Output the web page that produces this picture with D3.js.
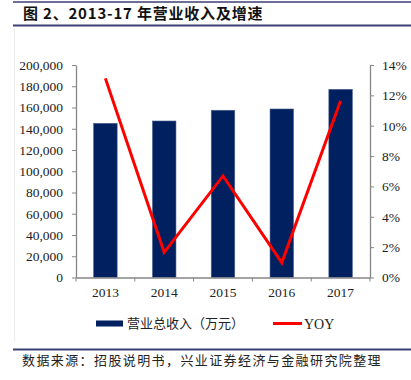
<!DOCTYPE html>
<html lang="zh">
  <head>
    <meta charset="UTF-8" />
    <title>营业收入及增速</title>
    <style>
      body { margin: 0; background: #fff; }
      svg { display: block; }
    </style>
  </head>
  <body>
    <div id="chart"></div>
    <script src="https://d3js.org/d3.v7.min.js"></script>
    <script>
      // data
      var years = ["2013", "2014", "2015", "2016", "2017"];
      var revenue = [145100, 147300, 157400, 158600, 177100]; // 万元
      var yoy = [0.1312, 0.0166, 0.0669, 0.0098, 0.1165];
      var leftTicks = [0, 20000, 40000, 60000, 80000, 100000, 120000, 140000, 160000, 180000, 200000];
      var rightTicks = [0, 0.02, 0.04, 0.06, 0.08, 0.1, 0.12, 0.14];

      var W = 411, H = 380;
      var plot = { left: 76, right: 370, top: 65, bottom: 277.5 };
      var serif = "'Liberation Serif', 'Times New Roman', serif";
      var cjk = "'Noto Sans CJK SC', sans-serif";
      var axisColor = "#868686";
      var ruleColor = "#3d3f73";

      var svg = d3
        .select("#chart")
        .append("svg")
        .attr("width", W)
        .attr("height", H);

      // header / footer rules
      svg.append("line").attr("x1", 13).attr("x2", W).attr("y1", 2).attr("y2", 2)
        .attr("stroke", ruleColor).attr("stroke-width", 1.5);
      svg.append("line").attr("x1", 13).attr("x2", W).attr("y1", 25.5).attr("y2", 25.5)
        .attr("stroke", ruleColor).attr("stroke-width", 2);
      svg.append("line").attr("x1", 13).attr("x2", W).attr("y1", 349.5).attr("y2", 349.5)
        .attr("stroke", ruleColor).attr("stroke-width", 2);
      // faint chart frame edge
      svg.append("line").attr("x1", 14.5).attr("x2", 14.5).attr("y1", 28).attr("y2", 342)
        .attr("stroke", "#eeeeee").attr("stroke-width", 1);

      svg.append("text")
        .attr("x", 23).attr("y", 19)
        .style("font-family", cjk).style("font-size", "15px").style("font-weight", "bold")
        .style("letter-spacing", "0.8px").style("fill", "#111")
        .text("图 2、2013-17 年营业收入及增速");

      svg.append("text")
        .attr("x", 22).attr("y", 365)
        .style("font-family", cjk).style("font-size", "13px")
        .style("letter-spacing", "1.4px").style("fill", "#222")
        .text("数据来源：招股说明书，兴业证券经济与金融研究院整理");

      // scales
      var xb = d3.scaleBand().domain(years).range([plot.left, plot.right]);
      var yL = d3.scaleLinear().domain([0, 200000]).range([plot.bottom, plot.top]);
      var yR = d3.scaleLinear().domain([0, 0.14]).range([plot.bottom, plot.top]);
      var barW = xb.bandwidth() * 0.4;

      // bars
      svg.append("g")
        .selectAll("rect")
        .data(years)
        .enter()
        .append("rect")
        .attr("x", function (d) { return xb(d) + (xb.bandwidth() - barW) / 2; })
        .attr("width", barW)
        .attr("y", function (d, i) { return yL(revenue[i]); })
        .attr("height", function (d, i) { return plot.bottom - yL(revenue[i]); })
        .attr("fill", "#002060")
        .attr("stroke", "#51638f")
        .attr("stroke-width", 0.6);

      // axes
      var fmt = d3.format(",");
      var gL = svg.append("g")
        .attr("transform", "translate(" + plot.left + ",0)")
        .call(d3.axisLeft(yL).tickValues(leftTicks).tickFormat(fmt).tickSizeInner(4).tickSizeOuter(0).tickPadding(9));
      var gR = svg.append("g")
        .attr("transform", "translate(" + plot.right + ",0)")
        .call(d3.axisRight(yR).tickValues(rightTicks).tickFormat(d3.format(".0%")).tickSizeInner(4).tickSizeOuter(0).tickPadding(8));
      var gX = svg.append("g")
        .attr("transform", "translate(0," + plot.bottom + ")")
        .call(d3.axisBottom(xb).tickSize(0).tickPadding(10));
      // x ticks on band boundaries
      gX.selectAll(".bound")
        .data(years.concat(["end"]))
        .enter()
        .append("line")
        .attr("class", "bound")
        .attr("x1", function (d, i) { return plot.left + i * xb.bandwidth(); })
        .attr("x2", function (d, i) { return plot.left + i * xb.bandwidth(); })
        .attr("y1", 0).attr("y2", 4)
        .attr("stroke", axisColor);

      [gL, gR, gX].forEach(function (g) {
        g.select(".domain").attr("stroke", axisColor).attr("stroke-width", 1.3);
        g.selectAll(".tick line").attr("stroke", axisColor);
        g.selectAll("text").style("font-family", serif).style("font-size", "13.5px").style("fill", "#222");
      });

      // YOY line
      var line = d3.line()
        .x(function (d, i) { return xb(years[i]) + xb.bandwidth() / 2; })
        .y(function (d) { return yR(d); });
      svg.append("path")
        .datum(yoy)
        .attr("d", line)
        .attr("fill", "none")
        .attr("stroke", "#ff0000")
        .attr("stroke-width", 3)
        .attr("stroke-linejoin", "miter");

      // legend
      var lg = svg.append("g");
      lg.append("rect").attr("x", 96).attr("y", 320.5).attr("width", 27).attr("height", 6)
        .attr("fill", "#002060");
      lg.append("text").attr("x", 127).attr("y", 328)
        .style("font-family", cjk).style("font-size", "13px").style("fill", "#222")
        .text("营业总收入（万元）");
      lg.append("line").attr("x1", 273).attr("x2", 302).attr("y1", 323.5).attr("y2", 323.5)
        .attr("stroke", "#ff0000").attr("stroke-width", 3);
      lg.append("text").attr("x", 304).attr("y", 328.5)
        .style("font-family", serif).style("font-size", "14px").style("fill", "#222")
        .text("YOY");
    </script>
  </body>
</html>
